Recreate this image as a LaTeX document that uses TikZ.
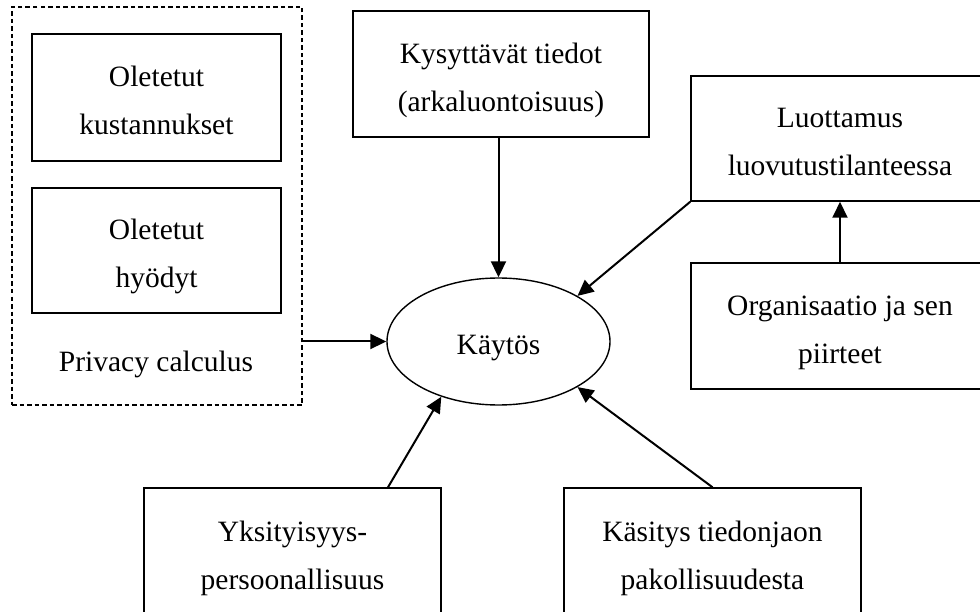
\documentclass[tikz,border=0pt]{standalone}
\usepackage{fontspec}
\setmainfont{Liberation Serif}
\usetikzlibrary{arrows.meta,shapes.geometric}
% struts that fix the vertical placement of the text inside the frames
\newcommand\topgap{\rule{0pt}{35pt}}
\newcommand\botgap{\rule[-8pt]{0pt}{8pt}}
\begin{document}
\begin{tikzpicture}[x=1pt,y=-1pt,
  every node/.style={font=\fontsize{29.5}{48}\selectfont, inner sep=0pt, align=center},
  factor/.style={draw, line width=1.5pt, rectangle, minimum width=297pt, minimum height=126pt},
  group/.style={draw, line width=1.2pt, dash pattern=on 4.5pt off 3pt, rectangle},
  core/.style={draw, line width=1.4pt, ellipse, minimum width=223pt, minimum height=127pt},
  link/.style={line width=2pt, -{Triangle[length=16pt,width=15pt]}}
]
\fill[white] (0,0) rectangle (980,612);
\useasboundingbox (0,0) rectangle (980,612);
\clip (0,0) rectangle (980,612);

% privacy calculus group
\node[group, minimum width=290pt, minimum height=398pt] (pcbox) at (157,206) {};
\node[factor, minimum width=249pt, minimum height=127pt] (cost) at (156.5,97.5) {\topgap Oletetut\\kustannukset\botgap};
\node[factor, minimum width=249pt, minimum height=125pt] (benefit) at (156.5,250.5) {\topgap Oletetut\\hyödyt\botgap};
\node[anchor=base] (pclabel) at (156,371) {Privacy calculus};

% central behaviour
\node[core] (beh) at (498.5,341.5) {\topgap Käytös\botgap};

% surrounding factors
\node[factor, minimum width=296pt] (info) at (501,74) {\topgap Kysyttävät tiedot\\(arkaluontoisuus)\botgap};
\node[factor, minimum width=298pt, minimum height=125pt] (trust) at (840,138.5) {\topgap Luottamus\\luovutustilanteessa\botgap};
\node[factor, minimum width=298pt] (org) at (840,326) {\topgap Organisaatio ja sen\\piirteet\botgap};
\node[factor, minimum height=127pt] (pers) at (292.5,551.5) {\topgap Yksityisyys-\\persoonallisuus\botgap};
\node[factor, minimum height=127pt] (mand) at (712.5,551.5) {\topgap Käsitys tiedonjaon\\pakollisuudesta\botgap};

% influences
\draw[link] (info.south -| beh.north) -- (beh.north);
\draw[link] (trust.south west) -- (beh.30);
\draw[link] (org.north) -- (trust.south);
\draw[link] (pcbox.east |- beh.west) -- (beh.west);
\draw[link] ([xshift=95.5pt]pers.north) -- (beh.224);
\draw[link] (mand.north) -- (beh.-30);
\end{tikzpicture}
\end{document}
